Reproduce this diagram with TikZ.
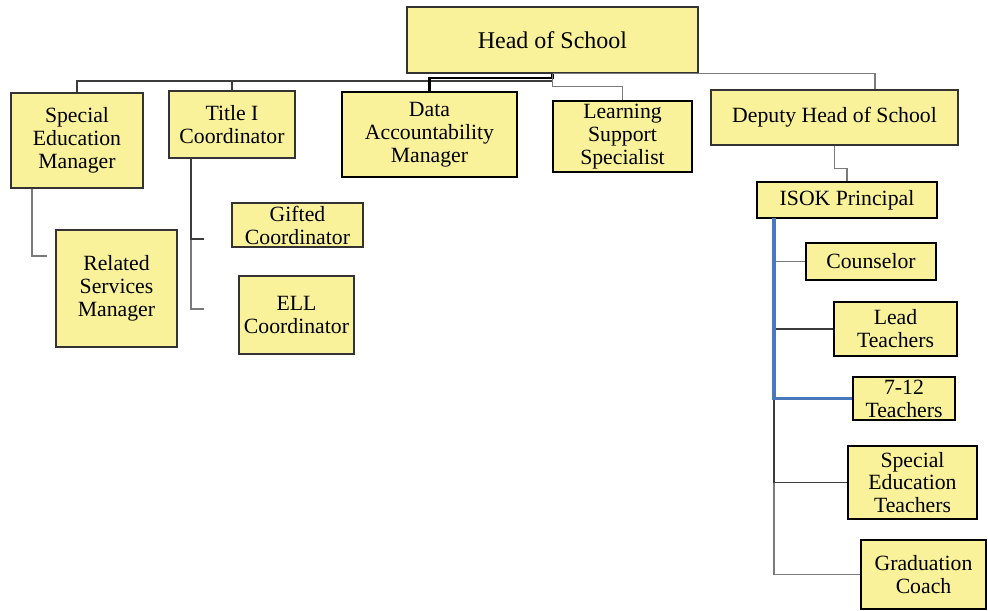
\documentclass[tikz,border=0pt]{standalone}
\usepackage{fontspec}
\setmainfont{Liberation Serif}
\newfontfamily\orgserif{Liberation Serif}
\usetikzlibrary{calc}
\definecolor{boxfill}{HTML}{F9F29B}
\definecolor{boxline}{HTML}{333333}
\definecolor{linkgray}{HTML}{7A7A7A}
\definecolor{linkdark}{HTML}{3C3C3C}
\definecolor{linkblue}{HTML}{4A78BC}
\begin{document}
\begin{tikzpicture}[x=0.75pt,y=-0.75pt,
  box/.style={draw=boxline, fill=boxfill, line width=1.1pt, inner sep=0pt,
    align=center, font=\orgserif\fontsize{16.3pt}{17.2pt}\selectfont},
  boldbox/.style={box, draw=black, line width=1.7pt},
  staffbox/.style={boldbox, line width=1.4pt},
  sz/.style 2 args={minimum width=#1*0.75pt, minimum height=#2*0.75pt},
  conn/.style={draw=linkdark, line width=1pt},
  conngray/.style={draw=linkgray, line width=1pt},
  connbold/.style={draw=black, line width=1.6pt},
  connblue/.style={draw=linkblue, line width=2.6pt}]
\useasboundingbox (0,0) rectangle (988,610);

% top level
\node[box, sz={291}{66}, font=\orgserif\fontsize{18pt}{19pt}\selectfont] (head) at (552.5,40) {Head of School};

% second level
\node[box, sz={132}{95}] (sped) at (77,140.5) {Special\\Education\\Manager};
\node[box, sz={126}{67}] (title) at (232,124.5) {Title I\\Coordinator};
\node[boldbox, sz={175}{85}] (data) at (429.5,134.5) {Data\\Accountability\\Manager};
\node[boldbox, sz={139}{71}] (learn) at (622.5,136.5) {Learning\\Support\\Specialist};
\node[box, sz={247}{55}] (deputy) at (834.5,117.5) {Deputy Head of School};

% left branches
\node[box, sz={121}{117}] (related) at (116.5,288.5) {Related\\Services\\Manager};
\node[box, sz={131}{44}] (gifted) at (297.5,225) {Gifted\\Coordinator};
\node[box, sz={115}{78}] (ell) at (296.5,315) {ELL\\Coordinator};

% principal and staff
\node[staffbox, sz={180}{36}] (isok) at (847,200) {ISOK Principal};
\node[staffbox, sz={130}{37}] (couns) at (871,261.5) {Counselor};
\node[staffbox, sz={123}{54}] (lead) at (895.5,329) {Lead\\Teachers};
\node[staffbox, sz={102}{43}] (tt) at (904,398.5) {7-12\\Teachers};
\node[staffbox, sz={129}{73}] (spedt) at (912.5,482.5) {Special\\Education\\Teachers};
\node[staffbox, sz={125}{69}] (grad) at (923.5,574.5) {Graduation\\Coach};

% junction points
\coordinate (bus) at (552.5,81);
\coordinate (relcorner) at (32,256);
\coordinate (relstub) at (47,256);
\coordinate (giftstub) at (204,239);
\coordinate (ellstub) at (204,309);
\coordinate (tspine) at (191,158);
\coordinate (spine) at (774,218);

% links from the head
\draw[conn] (head.south) -- (bus) -| (sped.north);
\draw[conn] (title.north) -- (title.north |- bus);
\draw[connbold] (head.south) -- ++(0,4) -| (data.north);
\draw[conngray] (head.south) -- ++(0,13) -| (learn.north);
\draw[conngray] (head.south) -| ($(deputy.north)+(40.5,0)$);

% left side links
\draw[conngray] (sped.south -| relcorner) -- (relcorner) -- (relstub);
\draw[conngray] (tspine) |- (ellstub);
\draw[conn] (tspine) |- (giftstub);

% deputy to principal
\draw[conngray] (deputy.south) -- ++(0,23) -| (isok.north);

% principal to staff
\draw[conngray] (spine) |- (grad.west);
\draw[conn] (spine) |- (spedt.west);
\draw[conngray] (spine |- couns.west) -- (couns.west);
\draw[conn] (spine |- lead.west) -- (lead.west);
\draw[connblue] (spine) |- (tt.west);
\end{tikzpicture}
\end{document}
